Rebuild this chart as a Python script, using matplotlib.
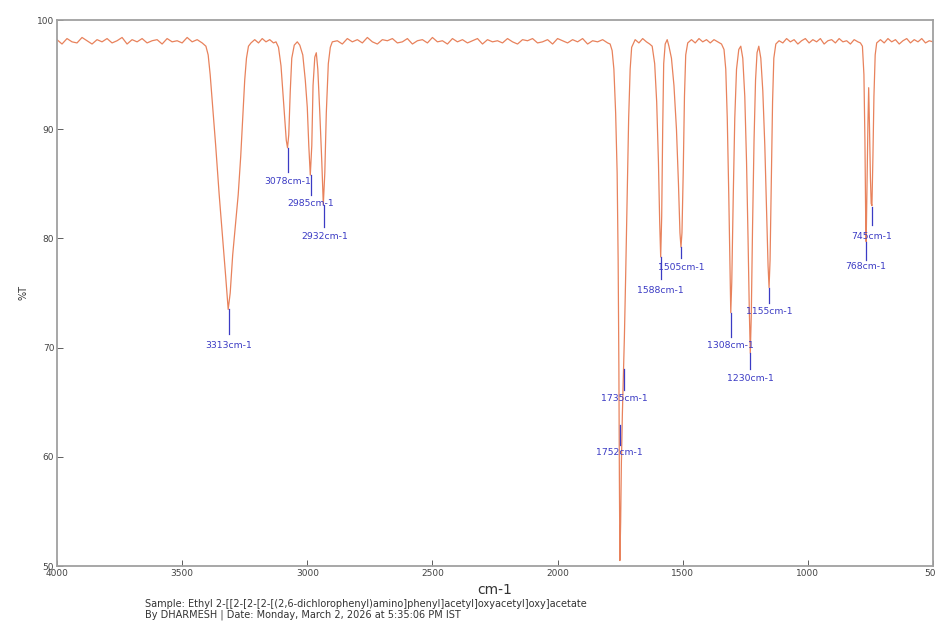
import matplotlib.pyplot as plt
import numpy as np

# spectrum (wavenumber cm-1, %T)
wn_base_a = [4000, 3980, 3960, 3940, 3920, 3900, 3880, 3860, 3840, 3820,
             3800, 3780, 3760, 3740, 3720, 3700, 3680, 3660, 3640, 3620,
             3600, 3580, 3560, 3540, 3520, 3500, 3480, 3460, 3440, 3420]
t_base_a = [98.2, 97.8, 98.3, 98.0, 97.9, 98.4, 98.1, 97.8, 98.2, 98.0,
            98.3, 97.9, 98.1, 98.4, 97.8, 98.2, 98.0, 98.3, 97.9, 98.1,
            98.2, 97.8, 98.3, 98.0, 98.1, 97.9, 98.4, 98.0, 98.2, 97.9]

wn_oh = [3405, 3396, 3388, 3378, 3366, 3352, 3338, 3326, 3316, 3308,
         3298, 3286, 3276, 3266, 3258, 3250, 3243, 3235]
t_oh = [97.6, 96.8, 95.0, 92.0, 88.5, 84.0, 80.0, 76.5, 73.5, 75.0,
        78.5, 81.5, 84.0, 87.5, 91.0, 94.5, 96.5, 97.6]

wn_base_b = [3225, 3210, 3195, 3180, 3165, 3150, 3135, 3125]
t_base_b = [97.9, 98.2, 97.9, 98.3, 98.0, 98.2, 97.9, 98.0]

wn_ch = [3115, 3105, 3098, 3090, 3084, 3079, 3074, 3068, 3062, 3052,
         3040, 3030, 3018, 3008, 3000, 2994, 2988, 2982, 2977, 2970,
         2964, 2958, 2950, 2942, 2936, 2930, 2924, 2916, 2908, 2900]
t_ch = [97.5, 95.8, 93.5, 90.8, 89.0, 88.3, 89.5, 93.5, 96.5, 97.7,
        98.0, 97.7, 96.8, 94.5, 92.0, 88.5, 85.8, 88.5, 94.0, 96.6,
        97.0, 95.5, 91.5, 87.0, 83.1, 86.0, 91.5, 96.0, 97.5, 98.0]

wn_base_c = [2880, 2860, 2840, 2820, 2800, 2780, 2760, 2740, 2720, 2700,
             2680, 2660, 2640, 2620, 2600, 2580, 2560, 2540, 2520, 2500,
             2480, 2460, 2440, 2420, 2400, 2380, 2360, 2340, 2320, 2300,
             2280, 2260, 2240, 2220, 2200, 2180, 2160, 2140, 2120, 2100,
             2080, 2060, 2040, 2020, 2000, 1980, 1960, 1940, 1920, 1900,
             1880, 1860, 1840, 1820, 1800]
t_base_c = [98.1, 97.8, 98.3, 98.0, 98.2, 97.9, 98.4, 98.0, 97.8, 98.2,
            98.1, 98.3, 97.9, 98.0, 98.3, 97.8, 98.1, 98.2, 97.9, 98.4,
            98.0, 98.1, 97.8, 98.3, 98.0, 98.2, 97.9, 98.1, 98.3, 97.8,
            98.2, 98.0, 98.1, 97.9, 98.3, 98.0, 97.8, 98.2, 98.1, 98.3,
            97.9, 98.0, 98.2, 97.8, 98.3, 98.1, 97.9, 98.2, 98.0, 98.3,
            97.8, 98.1, 98.0, 98.2, 97.9]

wn_co = [1790, 1782, 1775, 1768, 1762, 1758, 1755, 1753, 1751, 1748,
         1745, 1741, 1737, 1733, 1728, 1722, 1716, 1710, 1704]
t_co = [97.8, 97.2, 95.5, 91.5, 86.0, 78.0, 68.0, 58.0, 50.5, 54.0,
        59.5, 64.0, 67.5, 71.0, 76.5, 84.0, 91.0, 95.5, 97.5]

wn_base_d = [1690, 1675, 1660, 1645, 1632]
t_base_d = [98.2, 97.9, 98.3, 98.0, 97.8]

wn_ar = [1622, 1612, 1604, 1597, 1592, 1588, 1584, 1580, 1576, 1570,
         1562, 1555, 1545, 1535, 1525, 1517, 1511, 1507, 1503, 1498,
         1493, 1488, 1480]
t_ar = [97.6, 96.0, 92.5, 87.0, 81.5, 78.3, 82.0, 90.0, 96.0, 97.8,
        98.2, 97.6, 96.5, 94.0, 90.0, 85.0, 80.5, 79.2, 80.5, 86.0,
        93.0, 96.8, 97.9]

wn_base_e = [1465, 1450, 1435, 1420, 1405, 1390, 1375, 1360, 1345]
t_base_e = [98.2, 97.9, 98.3, 98.0, 98.2, 97.9, 98.2, 98.0, 97.8]

wn_fp = [1335, 1328, 1322, 1316, 1311, 1308, 1304, 1298, 1292, 1285,
         1276, 1268, 1260, 1252, 1245, 1239, 1234, 1230, 1226, 1221,
         1215, 1209, 1203, 1196, 1188, 1180, 1172, 1165, 1159, 1155,
         1151, 1146, 1141, 1136, 1128]
t_fp = [97.3, 95.5, 91.0, 84.0, 77.0, 73.2, 76.0, 84.0, 91.0, 95.5,
        97.3, 97.6, 96.5, 93.0, 87.0, 80.0, 73.5, 69.5, 73.0, 81.0,
        89.0, 94.5, 97.0, 97.6, 96.5, 93.5, 88.5, 82.5, 77.5, 75.5,
        78.0, 85.5, 92.5, 96.5, 97.8]

wn_base_f = [1115, 1100, 1085, 1070, 1055, 1040, 1025, 1010, 995, 980,
             965, 950, 935, 920, 905, 890, 875, 860, 845, 830,
             815, 800, 790]
t_base_f = [98.1, 97.9, 98.3, 98.0, 98.2, 97.8, 98.1, 98.3, 97.9, 98.2,
            98.0, 98.3, 97.8, 98.1, 98.2, 97.9, 98.3, 98.0, 98.1, 97.8,
            98.2, 98.0, 97.9]

wn_oop = [782, 776, 772, 769, 767, 764, 760, 757, 754, 750,
          747, 744, 740, 736, 731, 725]
t_oop = [97.6, 95.0, 89.0, 82.0, 79.7, 84.5, 90.5, 93.8, 90.5, 85.5,
         83.2, 83.0, 87.5, 93.0, 96.8, 97.9]

wn_base_g = [710, 695, 680, 665, 650, 635, 620, 605, 590, 575,
             560, 545, 530, 515, 500]
t_base_g = [98.2, 97.9, 98.3, 98.0, 98.2, 97.8, 98.1, 98.3, 97.9, 98.2,
            98.0, 98.3, 97.9, 98.1, 98.0]

wavenumber = (wn_base_a + wn_oh + wn_base_b + wn_ch + wn_base_c + wn_co +
              wn_base_d + wn_ar + wn_base_e + wn_fp + wn_base_f + wn_oop +
              wn_base_g)
transmittance = (t_base_a + t_oh + t_base_b + t_ch + t_base_c + t_co +
                 t_base_d + t_ar + t_base_e + t_fp + t_base_f + t_oop +
                 t_base_g)

# peak labels: position, line start, line end, text height (%T)
peak_wn = [3313, 3078, 2985, 2932, 1752, 1735, 1588, 1505, 1308, 1230, 1155, 768, 745]
line_top = [73.5, 88.3, 85.8, 83.1, 62.9, 68.0, 78.3, 79.2, 73.2, 69.5, 75.5, 79.7, 82.9]
line_end = [71.2, 86.1, 84.0, 81.0, 61.1, 66.1, 76.3, 78.2, 71.0, 68.0, 74.1, 78.0, 81.2]
text_t = [70.2, 85.2, 83.2, 80.2, 60.4, 65.3, 75.2, 77.3, 70.2, 67.2, 73.3, 77.4, 80.2]

sample = "Sample: Ethyl 2-[[2-[2-[2-[(2,6-dichlorophenyl)amino]phenyl]acetyl]oxyacetyl]oxy]acetate"
byline = "By DHARMESH | Date: Monday, March 2, 2026 at 5:35:06 PM IST"

fig = plt.figure(figsize=(9.35, 6.31), dpi=100)
ax = fig.add_axes([57/935, 65/631, 876/935, 546/631])

ax.plot(wavenumber, transmittance, color='#e8825c', linewidth=0.9)

for w, t0, t1, tt in zip(peak_wn, line_top, line_end, text_t):
    ax.plot([w, w], [t0, t1], color='#3b3bc4', linewidth=0.9)
    ax.text(w, tt, "%dcm-1" % w, color='#3b3bc4', fontsize=6.7,
            ha='center', va='center')

ax.set_xlim(4000, 500)
ax.set_ylim(50, 100)
ax.set_xticks(np.arange(4000, 499, -500))
ax.set_yticks(np.arange(50, 101, 10))
ax.tick_params(direction='in', length=4, width=0.6, labelsize=6.5,
               colors='#444444', pad=2)
for s in ax.spines.values():
    s.set_color('#a0a0a0')
    s.set_linewidth(1.3)

ax.set_xlabel('cm-1', fontsize=10, color='#333333', labelpad=4)
ax.set_ylabel('%T', fontsize=7, color='#333333', labelpad=6)

fig.text(145/935, 1 - 604/631, sample, fontsize=7.0, color='#333333', va='center')
fig.text(145/935, 1 - 614.5/631, byline, fontsize=7.0, color='#333333', va='center')

fig.savefig('out.png', dpi=100)
